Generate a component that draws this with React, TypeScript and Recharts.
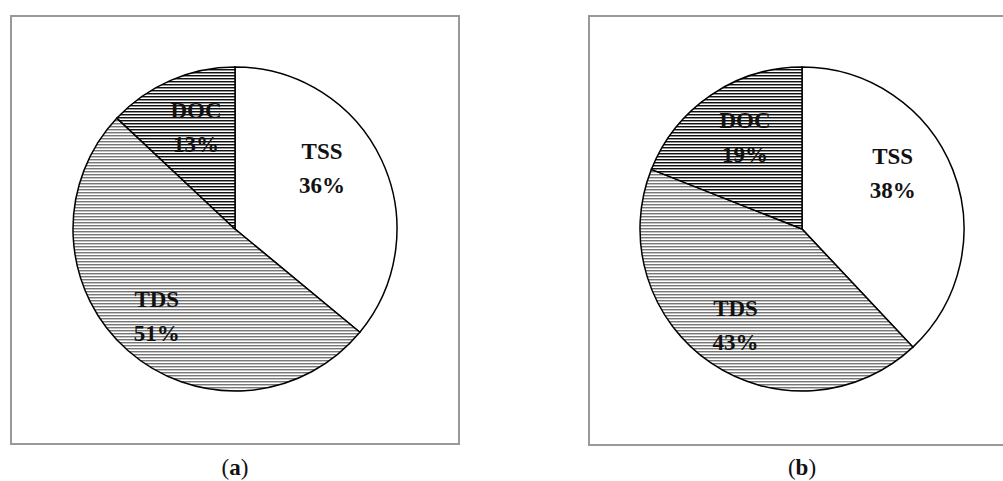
import { PieChart, Pie, Cell } from 'recharts';

const sliceNames = ['TSS', 'TDS', 'DOC'];
const sharesA = [36, 51, 13];
const sharesB = [38, 43, 19];
const captions = ['a', 'b'];

const fills = ['#ffffff', 'url(#hatchLight)', 'url(#hatchDark)'];
const RAD = Math.PI / 180;
const font = '"Liberation Serif", "Times New Roman", serif';

// label placement tweaks (Excel dragged them a bit off the mid-angle)
const labelRadius: Record<string, number> = { TSS: 0.65, TDS: 0.73, DOC: 0.66 };
const labelTurn: Record<string, number> = { TSS: 9, TDS: 0, DOC: -2 };

const toRows = (shares: number[]) => sliceNames.map((name, i) => ({ name, value: shares[i] }));

function renderLabel(props: any) {
  const { cx, cy, midAngle, outerRadius, name, value } = props;
  const angle = midAngle + labelTurn[name];
  const r = outerRadius * labelRadius[name];
  const x = cx + r * Math.cos(-angle * RAD);
  const y = cy + r * Math.sin(-angle * RAD);
  return (
    <text x={x} y={y} textAnchor="middle" fontFamily={font} fontWeight="bold" fontSize={23} fill="#111">
      <tspan x={x} dy={-11}>{name}</tspan>
      <tspan x={x} dy={34}>{value}%</tspan>
    </text>
  );
}

function Panel({ left, width, bottom }: { left: number; width: number; bottom: number }) {
  return (
    <div
      style={{
        position: 'absolute',
        left,
        top: 15,
        width,
        height: bottom - 15,
        boxSizing: 'border-box',
        border: '2px solid #999',
      }}
    />
  );
}

export default function App() {
  const pies = [
    { rows: toRows(sharesA), cx: 235, cy: 229 },
    { rows: toRows(sharesB), cx: 802, cy: 229 },
  ];
  return (
    <div style={{ position: 'absolute', left: 0, top: 0, width: 1003, height: 481, background: '#fff' }}>
      <svg width={0} height={0} style={{ position: 'absolute' }}>
        <defs>
          <pattern id="hatchLight" patternUnits="userSpaceOnUse" width={6} height={3}>
            <rect width={6} height={3} fill="#ffffff" />
            <rect width={6} height={1} fill="#777777" />
            <rect y={1} width={6} height={1} fill="#c4c4c4" />
          </pattern>
          <pattern id="hatchDark" patternUnits="userSpaceOnUse" width={6} height={3}>
            <rect width={6} height={3} fill="#ffffff" />
            <rect width={6} height={1.4} fill="#111111" />
            <rect y={1.4} width={6} height={0.6} fill="#888888" />
          </pattern>
        </defs>
      </svg>
      <Panel left={10} width={450} bottom={445} />
      <Panel left={588} width={430} bottom={446} />
      <div style={{ position: 'absolute', left: 0, top: 0 }}>
        <PieChart width={1003} height={481} margin={{ top: 0, right: 0, bottom: 0, left: 0 }}>
          {pies.map((p, k) => (
            <Pie
              key={k}
              data={p.rows}
              dataKey="value"
              nameKey="name"
              cx={p.cx}
              cy={p.cy}
              outerRadius={162}
              startAngle={90}
              endAngle={-270}
              stroke="#000"
              strokeWidth={1.5}
              label={renderLabel}
              labelLine={false}
              isAnimationActive={false}
            >
              {p.rows.map((r, i) => (
                <Cell key={r.name} fill={fills[i]} />
              ))}
            </Pie>
          ))}
          {pies.map((p, k) => (
            <text key={k} x={p.cx} y={475} textAnchor="middle" fontFamily={font} fontSize={23} fill="#111">
              (<tspan fontWeight="bold">{captions[k]}</tspan>)
            </text>
          ))}
        </PieChart>
      </div>
    </div>
  );
}
